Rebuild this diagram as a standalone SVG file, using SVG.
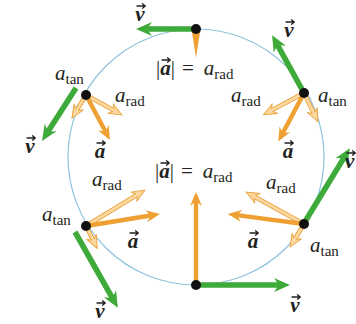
<svg xmlns="http://www.w3.org/2000/svg" width="356" height="324" viewBox="0 0 356 324">
<style>
.bg{fill:#ffffff}
.orbit{fill:none;stroke:#8ec3dc;stroke-width:1.2}
.v{fill:#3daa3a}
.a{fill:#eea032}
.lt{fill:#fcd8a0;stroke:#e9a23b;stroke-width:0.9}
.dot{fill:#111}
.acc{fill:none;stroke:#231f20;stroke-width:1.3;stroke-linecap:round;stroke-linejoin:round}
text{font-family:"Liberation Serif","DejaVu Serif",serif;font-size:21px;fill:#231f20}
.i{font-style:italic}
.bi{font-style:italic;font-weight:bold}
.sub{font-style:normal;font-size:15px}
.mid{text-anchor:middle}
</style>
<defs>
<path id="acc" class="acc" d="M-4,0 H4 M1.5,-2.2 L4.3,0 L1.5,2.2"/>
</defs>
<rect class="bg" x="0" y="0" width="356" height="324"/>
<g id="connectors">
<circle class="orbit" cx="196" cy="157" r="128"/>
</g>
<g id="top">
<path class="a" d="M0,-4.5 L29,0 L0,4.5Z" transform="translate(196,29) rotate(90)"/>
<path class="v" d="M0,-2.8 L47,-2.8 L44,-7 L60,0 L44,7 L47,2.8 L0,2.8Z" transform="translate(196,29) rotate(180)"/>
<circle class="dot" cx="196" cy="29" r="5"/>
<text class="bi mid" x="140" y="21">v</text>
<use href="#acc" x="141" y="6"/>
<text x="156" y="75">|<tspan class="bi">a</tspan>|<tspan dx="7">=</tspan><tspan class="i" dx="10">a</tspan><tspan class="sub" dy="4">rad</tspan></text>
<use href="#acc" x="166" y="60"/>
</g>
<g id="upper-left">
<path class="lt" d="M0,-1.8 L31,-1.8 L28,-5.5 L41,0 L28,5.5 L31,1.8 L0,1.8Z" transform="translate(86,95) rotate(29)"/>
<path class="lt" d="M0,-1.8 L17,-1.8 L14,-5.5 L27,0 L14,5.5 L17,1.8 L0,1.8Z" transform="translate(86,95) rotate(121.3)"/>
<path class="a" d="M0,-2.2 L40,-2.2 L37,-6 L51,0 L37,6 L40,2.2 L0,2.2Z" transform="translate(86,95) rotate(62)"/>
<path class="v" d="M0,-2.8 L50,-2.8 L47,-7 L63,0 L47,7 L50,2.8 L0,2.8Z" transform="translate(76,88) rotate(122.7)"/>
<circle class="dot" cx="86" cy="95" r="5"/>
<text x="55" y="80"><tspan class="i">a</tspan><tspan class="sub" dy="4">tan</tspan></text>
<text x="115" y="102"><tspan class="i">a</tspan><tspan class="sub" dy="4">rad</tspan></text>
<text class="bi mid" x="100" y="158">a</text>
<use href="#acc" x="101" y="143"/>
<text class="bi mid" x="30" y="153">v</text>
<use href="#acc" x="31" y="138"/>
</g>
<g id="upper-right">
<path class="lt" d="M0,-1.8 L36,-1.8 L33,-5.5 L46,0 L33,5.5 L36,1.8 L0,1.8Z" transform="translate(304,93) rotate(151.8)"/>
<path class="lt" d="M0,-1.8 L22,-1.8 L19,-5.5 L32,0 L19,5.5 L22,1.8 L0,1.8Z" transform="translate(304,93) rotate(64.2)"/>
<path class="a" d="M0,-2.2 L44,-2.2 L41,-6 L55,0 L41,6 L44,2.2 L0,2.2Z" transform="translate(304,93) rotate(117.9)"/>
<path class="v" d="M0,-2.8 L53,-2.8 L50,-7 L66,0 L50,7 L53,2.8 L0,2.8Z" transform="translate(304,93) rotate(-118.9)"/>
<circle class="dot" cx="304" cy="93" r="5"/>
<text class="bi mid" x="289" y="37">v</text>
<use href="#acc" x="290" y="22"/>
<text x="231" y="102"><tspan class="i">a</tspan><tspan class="sub" dy="4">rad</tspan></text>
<text x="318" y="102"><tspan class="i">a</tspan><tspan class="sub" dy="4">tan</tspan></text>
<text class="bi mid" x="288" y="158">a</text>
<use href="#acc" x="289" y="143"/>
</g>
<g id="lower-left">
<path class="lt" d="M0,-1.8 L59,-1.8 L56,-5.5 L69,0 L56,5.5 L59,1.8 L0,1.8Z" transform="translate(86,226) rotate(-31.4)"/>
<path class="lt" d="M0,-1.8 L15,-1.8 L12,-5.5 L25,0 L12,5.5 L15,1.8 L0,1.8Z" transform="translate(86,226) rotate(63.4)"/>
<path class="a" d="M0,-2.2 L64,-2.2 L61,-6 L75,0 L61,6 L64,2.2 L0,2.2Z" transform="translate(86,226) rotate(-9.2)"/>
<path class="v" d="M0,-2.8 L74,-2.8 L71,-7 L87,0 L71,7 L74,2.8 L0,2.8Z" transform="translate(75,232) rotate(60.5)"/>
<circle class="dot" cx="86" cy="226" r="5"/>
<text x="92" y="186"><tspan class="i">a</tspan><tspan class="sub" dy="4">rad</tspan></text>
<text x="42" y="221"><tspan class="i">a</tspan><tspan class="sub" dy="4">tan</tspan></text>
<text class="bi mid" x="133" y="248">a</text>
<use href="#acc" x="134" y="233"/>
<text class="bi mid" x="100" y="318">v</text>
<use href="#acc" x="101" y="303"/>
</g>
<g id="lower-right">
<path class="lt" d="M0,-1.8 L56,-1.8 L53,-5.5 L66,0 L53,5.5 L56,1.8 L0,1.8Z" transform="translate(304,224) rotate(-151.1)"/>
<path class="lt" d="M0,-1.8 L17,-1.8 L14,-5.5 L27,0 L14,5.5 L17,1.8 L0,1.8Z" transform="translate(304,224) rotate(121.3)"/>
<path class="a" d="M0,-2.2 L66,-2.2 L63,-6 L77,0 L63,6 L66,2.2 L0,2.2Z" transform="translate(304,224) rotate(-172.5)"/>
<path class="v" d="M0,-2.8 L71,-2.8 L68,-7 L84,0 L68,7 L71,2.8 L0,2.8Z" transform="translate(306,220) rotate(-58.6)"/>
<circle class="dot" cx="304" cy="224" r="5"/>
<text x="266" y="189"><tspan class="i">a</tspan><tspan class="sub" dy="4">rad</tspan></text>
<text x="310" y="252"><tspan class="i">a</tspan><tspan class="sub" dy="4">tan</tspan></text>
<text class="bi mid" x="253" y="248">a</text>
<use href="#acc" x="254" y="233"/>
<text class="bi" x="345" y="168">v</text>
<use href="#acc" x="351" y="153"/>
</g>
<g id="bottom">
<path class="a" d="M0,-2.2 L82,-2.2 L79,-6 L93,0 L79,6 L82,2.2 L0,2.2Z" transform="translate(196,285) rotate(-90)"/>
<path class="v" d="M0,-2.8 L81,-2.8 L78,-7 L94,0 L78,7 L81,2.8 L0,2.8Z" transform="translate(196,285)"/>
<circle class="dot" cx="196" cy="285" r="5"/>
<text class="bi mid" x="295" y="312">v</text>
<use href="#acc" x="296" y="297"/>
<text x="155" y="178">|<tspan class="bi">a</tspan>|<tspan dx="7">=</tspan><tspan class="i" dx="10">a</tspan><tspan class="sub" dy="4">rad</tspan></text>
<use href="#acc" x="165" y="163"/>
</g>
</svg>
